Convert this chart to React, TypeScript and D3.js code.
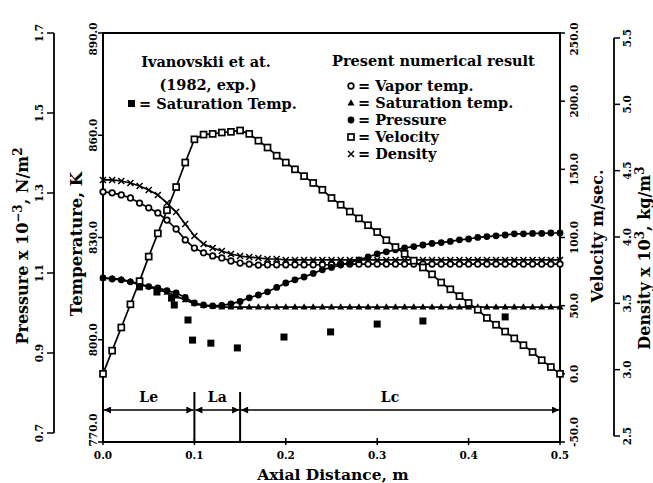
import React from "react";
import * as d3 from "d3";

const xs = [0, 0.01, 0.02, 0.03, 0.04, 0.05, 0.06, 0.07, 0.08, 0.09, 0.1, 0.11, 0.12, 0.13, 0.14, 0.15, 0.16, 0.17, 0.18, 0.19, 0.2, 0.21, 0.22, 0.23, 0.24, 0.25, 0.26, 0.27, 0.28, 0.29, 0.3, 0.31, 0.32, 0.33, 0.34, 0.35, 0.36, 0.37, 0.38, 0.39, 0.4, 0.41, 0.42, 0.43, 0.44, 0.45, 0.46, 0.47, 0.48, 0.49, 0.5];

const vaporTemp = [843.4, 843.1, 842.5, 841.6, 840.1, 838.7, 837.2, 835.1, 832.5, 829.3, 826.9, 825.5, 824.6, 824.0, 823.1, 822.5, 822.2, 821.9, 822.0, 822.0, 822.0, 822.0, 822.0, 822.0, 822.0, 822.0, 822.2, 822.2, 822.2, 822.2, 822.2, 822.2, 822.2, 822.2, 822.2, 822.2, 822.2, 822.2, 822.2, 822.2, 822.2, 822.2, 822.2, 822.2, 822.2, 822.2, 822.2, 822.2, 822.2, 822.2, 822.2];

const satTemp = [818.1, 818.0, 817.7, 817.1, 816.4, 815.6, 814.7, 813.9, 812.8, 811.7, 810.6, 810.0, 809.8, 809.6, 809.6, 809.6, 809.6, 809.6, 809.6, 809.6, 809.6, 809.6, 809.6, 809.6, 809.6, 809.6, 809.6, 809.6, 809.6, 809.6, 809.6, 809.6, 809.6, 809.6, 809.6, 809.6, 809.6, 809.6, 809.6, 809.6, 809.6, 809.6, 809.6, 809.6, 809.6, 809.6, 809.6, 809.6, 809.6, 809.6, 809.6];

const pressure = [1.088, 1.085, 1.083, 1.078, 1.070, 1.066, 1.063, 1.056, 1.050, 1.039, 1.025, 1.020, 1.018, 1.019, 1.023, 1.029, 1.038, 1.045, 1.053, 1.064, 1.075, 1.083, 1.090, 1.099, 1.108, 1.114, 1.120, 1.126, 1.133, 1.140, 1.148, 1.153, 1.158, 1.163, 1.166, 1.170, 1.174, 1.176, 1.179, 1.183, 1.185, 1.189, 1.191, 1.193, 1.195, 1.198, 1.198, 1.199, 1.199, 1.200, 1.200];

const velocity = [0, 17, 34, 51, 68, 86, 103, 120, 137, 155, 172, 175.5, 176, 177, 177.5, 178.5, 176, 171, 166, 160, 155, 150, 145, 140, 135, 129, 124, 119, 114, 109, 104, 98, 93, 88, 83, 78, 73, 67, 62, 57, 52, 47, 41, 36, 31, 26, 21, 16, 10, 5, 0];

const density = [4.430, 4.430, 4.422, 4.407, 4.384, 4.354, 4.317, 4.256, 4.188, 4.098, 4.008, 3.947, 3.917, 3.894, 3.872, 3.857, 3.849, 3.842, 3.834, 3.834, 3.827, 3.827, 3.827, 3.827, 3.827, 3.827, 3.827, 3.827, 3.827, 3.827, 3.827, 3.827, 3.827, 3.827, 3.827, 3.827, 3.827, 3.827, 3.827, 3.827, 3.827, 3.827, 3.827, 3.827, 3.827, 3.827, 3.827, 3.827, 3.827, 3.827, 3.827];

const expX = [0.040, 0.059, 0.075, 0.078, 0.093, 0.098, 0.118, 0.147, 0.198, 0.249, 0.300, 0.350, 0.440];
const expT = [815.5, 814.0, 812.2, 810.2, 805.8, 799.9, 799.0, 797.6, 800.8, 802.3, 804.6, 805.5, 806.7];

const xTicks = [0, 0.1, 0.2, 0.3, 0.4, 0.5];
const tempTicks = [770, 800, 830, 860, 890];
const velTicks = [-50, 0, 50, 100, 150, 200, 250];
const presTicks = [0.7, 0.9, 1.1, 1.3, 1.5, 1.7];
const densTicks = [2.5, 3.0, 3.5, 4.0, 4.5, 5.0, 5.5];
const regions = [
  { label: "Le", from: 0, to: 0.1 },
  { label: "La", from: 0.1, to: 0.15 },
  { label: "Lc", from: 0.15, to: 0.5 },
];

const FONT = "'DejaVu Serif', serif";

export default function App() {
  const L = 103, R = 560, T = 33, B = 442;
  const x = d3.scaleLinear().domain([0, 0.5]).range([L, R]);
  const yT = d3.scaleLinear().domain([770, 890]).range([B, T]);
  const yV = d3.scaleLinear().domain([-50, 250]).range([B, T]);
  const yP = d3.scaleLinear().domain([0.7, 1.7]).range([433, 33]);
  const yD = d3.scaleLinear().domain([2.5, 5.5]).range([436, 38]);

  const line = (vals: number[], sc: d3.ScaleLinear<number, number>) =>
    d3.line<number>().x((_, i) => x(xs[i])).y((v) => sc(v))(vals) || "";

  const pts = (vals: number[], sc: d3.ScaleLinear<number, number>) =>
    vals.map((v, i) => [x(xs[i]), sc(v)] as [number, number]);

  const circleOpen = (cx: number, cy: number, k: string) => (
    <circle key={k} cx={cx} cy={cy} r={2.8} fill="#fff" stroke="#000" strokeWidth={1.7} />
  );
  const circleFill = (cx: number, cy: number, k: string) => (
    <circle key={k} cx={cx} cy={cy} r={3.4} fill="#000" />
  );
  const tri = (cx: number, cy: number, k: string) => (
    <path key={k} d={`M${cx},${cy - 3.7}L${cx + 3.5},${cy + 2.4}L${cx - 3.5},${cy + 2.4}Z`} fill="#000" />
  );
  const sqOpen = (cx: number, cy: number, k: string) => (
    <rect key={k} x={cx - 3} y={cy - 3} width={6} height={6} fill="#fff" stroke="#000" strokeWidth={1.7} />
  );
  const cross = (cx: number, cy: number, k: string) => (
    <path key={k} d={`M${cx - 3},${cy - 3}L${cx + 3},${cy + 3}M${cx - 3},${cy + 3}L${cx + 3},${cy - 3}`} stroke="#000" strokeWidth={1.5} />
  );

  const series = [
    { vals: density, sc: yD, mk: cross, id: "d" },
    { vals: vaporTemp, sc: yT, mk: circleOpen, id: "v" },
    { vals: satTemp, sc: yT, mk: tri, id: "s" },
    { vals: pressure, sc: yP, mk: circleFill, id: "p" },
    { vals: velocity, sc: yV, mk: sqOpen, id: "u" },
  ];

  const rotText = (tx: number, ty: number, content: React.ReactNode, size: number, key?: string) => (
    <text key={key} transform={`translate(${tx},${ty}) rotate(-90)`} textAnchor="middle" fontSize={size} fontWeight="bold" fontFamily={FONT}>
      {content}
    </text>
  );

  const arrowY = 410;

  return (
    <svg width={653} height={483} style={{ position: "absolute", left: 0, top: 0, background: "#fff" }}>
      <defs>
        <marker id="ah" viewBox="0 0 10 10" refX={10} refY={5} markerWidth={9} markerHeight={7} markerUnits="userSpaceOnUse" orient="auto-start-reverse">
          <path d="M0,0L10,5L0,10Z" fill="#000" />
        </marker>
      </defs>

      {/* frame */}
      <rect x={L} y={T} width={R - L} height={B - T} fill="none" stroke="#000" strokeWidth={2} />

      {/* x axis ticks & labels */}
      {xTicks.map((t) => (
        <g key={"xt" + t}>
          <line x1={x(t)} x2={x(t)} y1={B} y2={B - 4} stroke="#000" strokeWidth={1.5} />
          <line x1={x(t)} x2={x(t)} y1={B} y2={B + 3} stroke="#000" strokeWidth={1.5} />
          <text x={x(t)} y={459} textAnchor="middle" fontSize={10.5} fontWeight="bold" fontFamily={FONT}>
            {t.toFixed(1)}
          </text>
        </g>
      ))}
      <text x={333} y={480} textAnchor="middle" fontSize={15.5} fontWeight="bold" fontFamily={FONT}>
        Axial Distance, m
      </text>

      {/* temperature axis */}
      {tempTicks.map((t) => (
        <g key={"tt" + t}>
          <line x1={L - 5} x2={L} y1={yT(t)} y2={yT(t)} stroke="#000" strokeWidth={1.5} />
          {rotText(97, yT(t) + (t === 890 ? 6 : t === 770 ? -12 : 0), t.toFixed(1), 10.5)}
        </g>
      ))}
      {rotText(82, 244, "Temperature, K", 16.5)}

      {/* pressure axis */}
      <line x1={54} x2={54} y1={yP(0.7)} y2={yP(1.7)} stroke="#000" strokeWidth={1.8} />
      {presTicks.map((t) => (
        <g key={"pt" + t}>
          <line x1={47} x2={54} y1={yP(t)} y2={yP(t)} stroke="#000" strokeWidth={1.5} />
          {rotText(43, yP(t), t.toFixed(1), 10.5)}
        </g>
      ))}
      {rotText(28, 246, <>Pressure x 10<tspan dy={-6} fontSize={12}>−3</tspan><tspan dy={6}>, N/m</tspan><tspan dy={-6} fontSize={12}>2</tspan></>, 16)}

      {/* velocity axis (right frame) */}
      {velTicks.map((t) => (
        <g key={"vt" + t}>
          <line x1={R} x2={R + 5} y1={yV(t)} y2={yV(t)} stroke="#000" strokeWidth={1.5} />
          {rotText(578, yV(t) + (t === 250 ? 6 : t === -50 ? -10 : 0), t.toFixed(1), 10.5)}
        </g>
      ))}
      {rotText(603, 236, "Velocity m/sec.", 16)}

      {/* density axis */}
      <line x1={614} x2={614} y1={yD(2.5)} y2={yD(5.5)} stroke="#000" strokeWidth={1.8} />
      {densTicks.map((t) => (
        <g key={"dt" + t}>
          <line x1={614} x2={620} y1={yD(t)} y2={yD(t)} stroke="#000" strokeWidth={1.5} />
          {rotText(631, yD(t), t.toFixed(1), 10.5)}
        </g>
      ))}
      {rotText(650, 258, <>Density x 10<tspan dy={-6} fontSize={12}>3</tspan><tspan dy={6}>, kg/m</tspan><tspan dy={-6} fontSize={12}>3</tspan></>, 16)}

      {/* region markers */}
      <line x1={x(0.1)} x2={x(0.1)} y1={392} y2={B} stroke="#000" strokeWidth={2} />
      <line x1={x(0.15)} x2={x(0.15)} y1={392} y2={B} stroke="#000" strokeWidth={2} />
      {regions.map((r) => (
        <g key={r.label}>
          <line x1={x(r.from) + 1} x2={x(r.to) - 1} y1={arrowY} y2={arrowY} stroke="#000" strokeWidth={1.5} markerStart="url(#ah)" markerEnd="url(#ah)" />
          <text x={(x(r.from) + x(r.to)) / 2 + (r.label === "Lc" ? -10 : 0)} y={402} textAnchor="middle" fontSize={14} fontWeight="bold" fontFamily={FONT}>
            {r.label}
          </text>
        </g>
      ))}

      {/* series lines */}
      {series.map((s) => (
        <path key={"l" + s.id} d={line(s.vals, s.sc)} fill="none" stroke="#000" strokeWidth={1.7} />
      ))}
      {/* markers */}
      {series.map((s) => (
        <g key={"m" + s.id}>{pts(s.vals, s.sc).map(([cx, cy], i) => s.mk(cx, cy, s.id + i))}</g>
      ))}

      {/* experimental points */}
      {expX.map((ex, i) => (
        <rect key={"e" + i} x={x(ex) - 3.5} y={yT(expT[i]) - 3.5} width={7} height={7} fill="#000" />
      ))}

      {/* legends */}
      <g fontFamily={FONT} fontWeight="bold" fontSize={14.5}>
        <text x={206} y={67} textAnchor="middle">Ivanovskii et at.</text>
        <text x={208} y={90} textAnchor="middle">(1982, exp.)</text>
        <rect x={128} y={100} width={7} height={7} fill="#000" />
        <text x={139} y={109}>= Saturation Temp.</text>

        <text x={332} y={66}>Present numerical result</text>
        {circleOpen(351, 86, "lg1")}
        <text x={358} y={91}>= Vapor temp.</text>
        {tri(351, 103, "lg2")}
        <text x={358} y={108}>= Saturation temp.</text>
        {circleFill(351, 120, "lg3")}
        <text x={358} y={125}>= Pressure</text>
        {sqOpen(351, 137, "lg4")}
        <text x={358} y={142}>= Velocity</text>
        {cross(351, 154, "lg5")}
        <text x={358} y={159}>= Density</text>
      </g>
    </svg>
  );
}
